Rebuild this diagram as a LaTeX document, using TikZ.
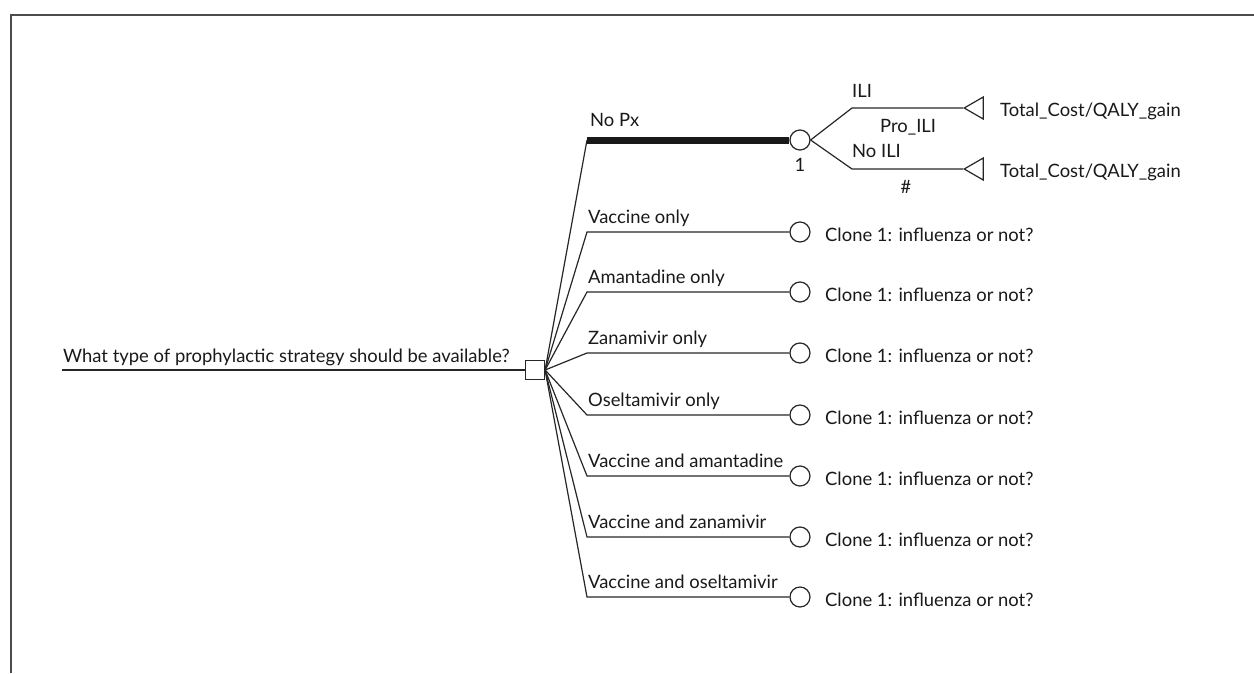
\documentclass[tikz,border=0pt]{standalone}
\usepackage{fontspec}
\setmainfont{Lato}
\usetikzlibrary{shapes.geometric}
\begin{document}
\begin{tikzpicture}[x=1pt,y=-1pt,
  every node/.style={font=\fontsize{18.4}{21}\selectfont, text=black!90},
  lbl/.style={anchor=base west, inner sep=0},
  edge/.style={line width=1.2pt, draw=black!85},
  thickedge/.style={line width=7pt, draw=black!90},
  frame/.style={line width=2pt, draw=black!70},
  decision/.style={rectangle, draw=black!85, line width=1.2pt, minimum size=19pt, inner sep=0},
  chance/.style={circle, draw=black!85, line width=1.2pt, minimum size=20pt, inner sep=0},
  terminal/.style={isosceles triangle, isosceles triangle apex angle=60, shape border rotate=180,
     draw=black!85, line width=1.2pt, minimum height=19pt, inner sep=0, anchor=apex}]
\useasboundingbox (0,0) rectangle (1254,673);
\draw[frame] (11,673) -- (11,15) -- (1254,15);

% root
\coordinate (root) at (62,370);
\node[decision] (d) at (535,370) {};
\draw[edge] (root) -- (d.west);
\node[lbl] (q) at (63,362) {What type of prophylactic strategy should be available?};

% branch points
\coordinate (b1) at (587,140);
\coordinate (b2) at (587,232);
\coordinate (b3) at (587,292);
\coordinate (b4) at (587,353);
\coordinate (b5) at (587,415);
\coordinate (b6) at (587,476);
\coordinate (b7) at (587,537);
\coordinate (b8) at (587,597);

\node[chance] (c1) at (800,140) {};
\node[chance] (c2) at (800,232) {};
\node[chance] (c3) at (800,292) {};
\node[chance] (c4) at (800,353) {};
\node[chance] (c5) at (800,415) {};
\node[chance] (c6) at (800,476) {};
\node[chance] (c7) at (800,537) {};
\node[chance] (c8) at (800,597) {};

\draw[edge] (d.east) -- (b1);
\draw[thickedge] (b1) -- (c1.west);
\foreach \i in {2,...,8} {\draw[edge] (d.east) -- (b\i) -- (c\i.west);}

\node[lbl] (l1) at (590,126) {No Px};
\node[lbl] (l2) at (588,223) {Vaccine only};
\node[lbl] (l3) at (588,283) {Amantadine only};
\node[lbl] (l4) at (588,344) {Zanamivir only};
\node[lbl] (l5) at (588,406) {Oseltamivir only};
\node[lbl] (l6) at (588,467) {Vaccine and amantadine};
\node[lbl] (l7) at (588,528) {Vaccine and zanamivir};
\node[lbl] (l8) at (588,588) {Vaccine and oseltamivir};

\foreach \i/\yy in {2/232,3/292,4/353,5/415,6/476,7/537,8/597} {
  \node[lbl] (cl\i) at (825,\yy+9) {Clone 1: influenza or not?};
}

% No Px chance node
\node[inner sep=0] (n1) at (800,165) {1};
\coordinate (k1) at (852,108);
\coordinate (k2) at (852,169);
\node[terminal] (t1) at (963,108) {};
\node[terminal] (t2) at (963,169) {};
\draw[edge] (c1.east) -- (k1) -- (t1.apex);
\draw[edge] (c1.east) -- (k2) -- (t2.apex);
\node[lbl] (ili) at (852,97) {ILI};
\node[lbl] (pro) at (880,132) {Pro\_ILI};
\node[lbl] (noili) at (852,157) {No ILI};
\node[inner sep=0, anchor=base] (hash) at (906,193) {\#};
\node[lbl] (tc1) at (1000,116) {Total\_Cost/QALY\_gain};
\node[lbl] (tc2) at (1000,177) {Total\_Cost/QALY\_gain};
\end{tikzpicture}
\end{document}
